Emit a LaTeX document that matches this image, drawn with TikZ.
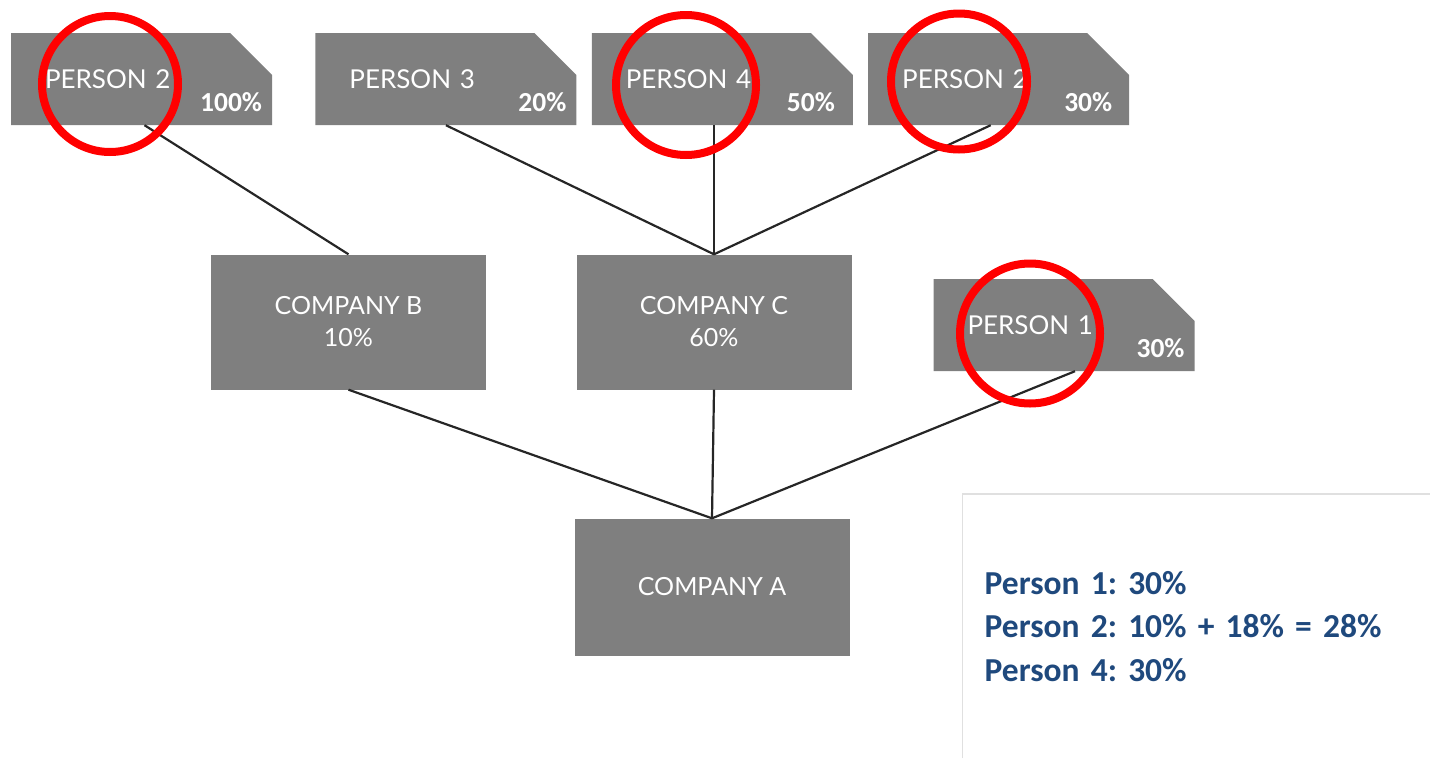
\documentclass[tikz,border=0pt]{standalone}
\usepackage{fontspec}
\setmainfont{Lato}
\newfontfamily\calibri{Carlito}
\usetikzlibrary{positioning}
\definecolor{boxgray}{RGB}{127,127,127}
\definecolor{sumblue}{RGB}{31,73,125}
\tikzset{
person/.style={
	minimum width=261, minimum height=92, text width=193,
	inner xsep=34, inner ysep=0, align=left, text=white,
	font=\fontsize{26}{30}\selectfont,
	path picture={\fill[boxgray] (path picture bounding box.south west)
	 -- (path picture bounding box.north west)
	 -- ([xshift=-42pt]path picture bounding box.north east)
	 -- ([yshift=-42pt]path picture bounding box.north east)
	 -- (path picture bounding box.south east) -- cycle;}},
pct/.style={anchor=south east, inner sep=0, xshift=-10pt, yshift=13pt,
	text=white, font=\calibri\bfseries\fontsize{27.5}{30}\selectfont},
company/.style={fill=boxgray, minimum width=275, minimum height=135,
	inner sep=0, align=center, text=white, font=\fontsize{25}{32}\selectfont},
link/.style={draw=black!85, line width=2.2},
ring/.style={circle, draw=red, line width=8, minimum size=136},
summary/.style={fill=white, minimum width=468, minimum height=264,
	text width=440, inner xsep=22, align=left, text=sumblue,
	font=\calibri\bfseries\fontsize{33.5}{43.5}\selectfont}
}
\frenchspacing

\begin{document}
\begin{tikzpicture}[x=1pt, y=-1pt]
	\useasboundingbox (0,0) rectangle (1430,758);
	% owners
	\node[person, label={[pct]south east:100\%}] (p2a) at (141.5,79) {PERSON 2};
	\node[person, right=43pt of p2a, label={[pct]south east:20\%}] (p3) {PERSON 3};
	\node[person, right=15pt of p3, label={[pct, xshift=-8pt]south east:50\%}] (p4) {PERSON 4};
	\node[person, right=15pt of p4, label={[pct, xshift=-7pt]south east:30\%}] (p2b) {PERSON 2};
	\node[person, label={[pct]south east:30\%}] (p1) at (1064,325) {PERSON 1};
	% companies
	\node[company] (cb) at (348.5,322) {COMPANY B\\10\%};
	\node[company] (cc) at (714,322) {COMPANY C\\60\%};
	\node[company, minimum height=137] (ca) at (712,587) {COMPANY A};
	% links
	\draw[link] ([xshift=3pt]p2a.south) -- (cb.north);
	\draw[link] (p3.south) -- (cc.north);
	\draw[link] (cc.north) -- (cc.north |- p4.south);
	\draw[link] ([xshift=-8pt]p2b.south) -- (cc.north);
	\draw[link] (cb.south) -- (ca.north);
	\draw[link] (cc.south) -- (ca.north);
	\draw[link] ([xshift=11pt]p1.south) -- (ca.north);
	% result
	\node[summary, anchor=north west] (sum) at (962.5,494)
		{Person 1: 30\%\\Person 2: 10\% + 18\% = 28\%\\Person 4: 30\%};
	\draw[black!12, line width=1.5] (sum.south west) -- (sum.north west) -- (sum.north east);
	% marks
	\node[ring] (m2a) at (110,84) {};
	\node[ring, minimum size=140] (m4) at (686,85) {};
	\node[ring] (m2b) at (959,81.5) {};
	\node[ring, minimum size=140] (m1) at (1030,333.5) {};
\end{tikzpicture}
\end{document}
